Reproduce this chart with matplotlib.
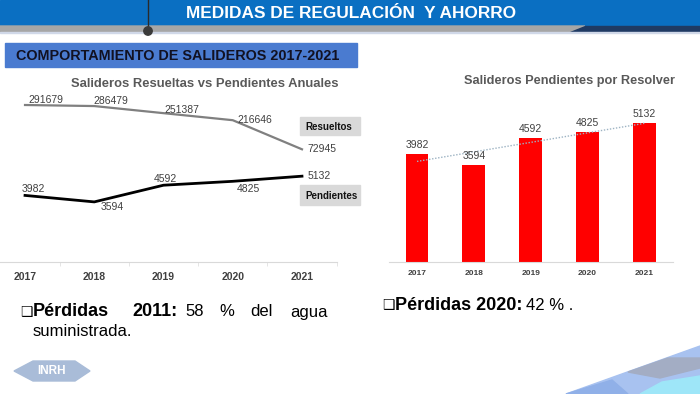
import matplotlib
matplotlib.use("Agg")
import matplotlib.pyplot as plt
import numpy as np
from matplotlib.patches import Rectangle, Polygon, Circle

years = ["2017", "2018", "2019", "2020", "2021"]
resueltos = [291679, 286479, 251387, 216646, 72945]
pendientes = [3982, 3594, 4592, 4825, 5132]

W, H = 700, 394
plt.rcParams['font.family'] = ['Liberation Sans', 'DejaVu Sans']

fig = plt.figure(figsize=(7, 3.94), dpi=100)

bg = fig.add_axes([0, 0, 1, 1])
bg.set_xlim(0, W)
bg.set_ylim(H, 0)
bg.axis("off")

# header
bg.add_patch(Rectangle((0, 0), W, 26, color="#0A6FC2", zorder=1))
bg.add_patch(Polygon([(0, 26), (585, 26), (570, 32), (0, 32)], closed=True, color="#A6A6A6", zorder=1))
bg.add_patch(Polygon([(585, 26), (700, 26), (700, 32), (570, 32)], closed=True, color="#1F3A63", zorder=1))
bg.add_patch(Rectangle((0, 32), W, 1.2, color="#D0D8E8", zorder=1))
bg.plot([148, 148], [0, 28], color="#2A2A2A", lw=1.0, zorder=2)
bg.add_patch(Circle((148, 31), 4.2, color="#3A3A3A", zorder=3))
bg.text(351, 13.5, "MEDIDAS DE REGULACIÓN  Y AHORRO", color="white", fontsize=12.4,
        fontweight="bold", ha="center", va="center", zorder=4)

# sub header box
bg.add_patch(Rectangle((5, 43), 352, 24, color="#4A7BD0", zorder=1))
bg.text(178, 55.5, "COMPORTAMIENTO DE SALIDEROS 2017-2021", color="#111122", fontsize=10.4,
        fontweight="bold", ha="center", va="center", zorder=4)

# chart titles
bg.text(205, 84, "Salideros Resueltas vs Pendientes Anuales", color="#595959", fontsize=9.4,
        fontweight="bold", ha="center", va="center")
bg.text(570, 80.5, "Salideros Pendientes por Resolver", color="#595959", fontsize=9.2,
        fontweight="bold", ha="center", va="center")

# legend-like boxes
bg.add_patch(Rectangle((300, 117), 60, 18, color="#D9D9D9", zorder=1))
bg.text(305, 126.5, "Resueltos", color="#111111", fontsize=7, fontweight="bold", va="center")
bg.add_patch(Rectangle((300, 185), 60, 20, color="#D9D9D9", zorder=1))
bg.text(305, 195.5, "Pendientes", color="#111111", fontsize=7, fontweight="bold", va="center")

# ---------- left line chart ----------
def fx(px):
    return px / W

def fy(py):
    return 1 - py / H

x = np.arange(len(years))
axL_left, axL_right, axL_top, axL_bot = -9.6, 336.6, 85, 262
axL = fig.add_axes([fx(axL_left), fy(axL_bot), (axL_right - axL_left) / W, (axL_bot - axL_top) / H])
axL.patch.set_alpha(0)
axL.set_xlim(-0.5, 4.5)
axL.set_ylim(0, (axL_bot - axL_top) * 59.8)
axL.plot(x, pendientes, color="black", lw=2.0, solid_joinstyle="round")
for s in ["top", "right", "left"]:
    axL.spines[s].set_visible(False)
axL.spines["bottom"].set_color("#D9D9D9")
axL.set_yticks([])
axL.set_xticks(x)
axL.set_xticklabels(years, fontsize=7.5, fontweight="bold", color="#404040")
axL.tick_params(axis="x", length=0, pad=7)
axL.set_xticks(np.arange(-0.5, 5, 1), minor=True)
axL.tick_params(axis="x", which="minor", length=3, color="#E0E0E0")

axR2 = axL.twinx()
axR2.set_ylim((164.07 - axL_bot) * 4938, (164.07 - axL_top) * 4938)
axR2.plot(x, resueltos, color="#808080", lw=1.6, solid_joinstyle="round")
axR2.axis("off")

lab_kw = dict(textcoords="offset pixels", fontsize=7.5, color="#404040", va="center", ha="left")
res_off = [(3, 5), (-1, 5), (1, 3), (5, 0), (5, 0)]
for i, v in enumerate(resueltos):
    axR2.annotate(str(v), (x[i], v), xytext=res_off[i], **lab_kw)
pen_off = [(-3, 6.5), (6, -5), (-10, 6), (4, -8), (6, 0)]
for i, v in enumerate(pendientes):
    axL.annotate(str(v), (x[i], v), xytext=pen_off[i], **lab_kw)

# ---------- right bar chart ----------
bL, bR, bT, bB = 388.6, 672.7, 99.9, 261.7
axB = fig.add_axes([fx(bL), fy(bB), (bR - bL) / W, (bB - bT) / H])
axB.patch.set_alpha(0)
axB.set_xlim(-0.5, 4.5)
axB.set_ylim(0, 6000)
axB.bar(x, pendientes, width=0.4, color="#FF0000", zorder=2)
coef = np.polyfit(x, pendientes, 1)
axB.plot(x, np.polyval(coef, x), color="#9DB3C3", lw=1.0, ls=(0, (1, 1.2)), zorder=3)
for i, v in enumerate(pendientes):
    axB.annotate(str(v), (x[i], v), xytext=(0, 9), textcoords="offset pixels",
                 ha="center", va="center", fontsize=7.5, color="#404040")
for s in ["top", "right", "left"]:
    axB.spines[s].set_visible(False)
axB.spines["bottom"].set_color("#D9D9D9")
axB.set_yticks([])
axB.set_xticks(x)
axB.set_xticklabels(years, fontsize=6, fontweight="bold", color="#404040")
axB.tick_params(axis="x", length=0, pad=6)

# ---------- bottom texts ----------
tb = dict(fontsize=12, va="center", color="black")
bb = dict(fontsize=13, va="center", color="black", fontweight="bold")
bg.text(20, 312, "\u2751", fontsize=10, va="center", color="black", family=["DejaVu Sans"])
bg.text(33, 312, "Pérdidas", **bb)
bg.text(132, 312, "2011:", **bb)
bg.text(185, 312, "58", **tb)
bg.text(219, 312, "%", **tb)
bg.text(250, 312, "del", **tb)
bg.text(290, 312, "agua", **tb)
bg.text(33, 332, "suministrada.", **tb)

bg.text(382, 305, "\u2751", fontsize=10, va="center", color="black", family=["DejaVu Sans"])
t1 = bg.text(395, 305, "Pérdidas 2020:", **bb)
renderer = fig.canvas.get_renderer()
ext = t1.get_window_extent(renderer)
bg.text(ext.x1 + 4, 305, "42 % .", **tb)

# logo
bg.add_patch(Polygon([(14, 371), (33, 361), (75, 361), (90, 371), (75, 381), (33, 381)],
                     closed=True, color="#A9BCD8", zorder=1))
bg.text(52, 371, "INRH", color="white", fontsize=8.5, fontweight="bold", ha="center", va="center", zorder=2)

# bottom right decoration (wedge of tiles)
bg.add_patch(Polygon([(566, 394), (700, 346), (700, 394)], closed=True, color="#A8C2F0", zorder=1))
bg.add_patch(Polygon([(628, 372), (668, 358), (700, 358), (700, 368), (660, 378)], closed=True,
                     color="#A3ADC4", zorder=2))
bg.add_patch(Polygon([(640, 394), (662, 382), (700, 376), (700, 394)], closed=True, color="#9EE6F8", zorder=3))
bg.add_patch(Polygon([(566, 394), (612, 380), (628, 394)], closed=True, color="#90B0E8", zorder=3))

fig.savefig("out.png", dpi=100)
